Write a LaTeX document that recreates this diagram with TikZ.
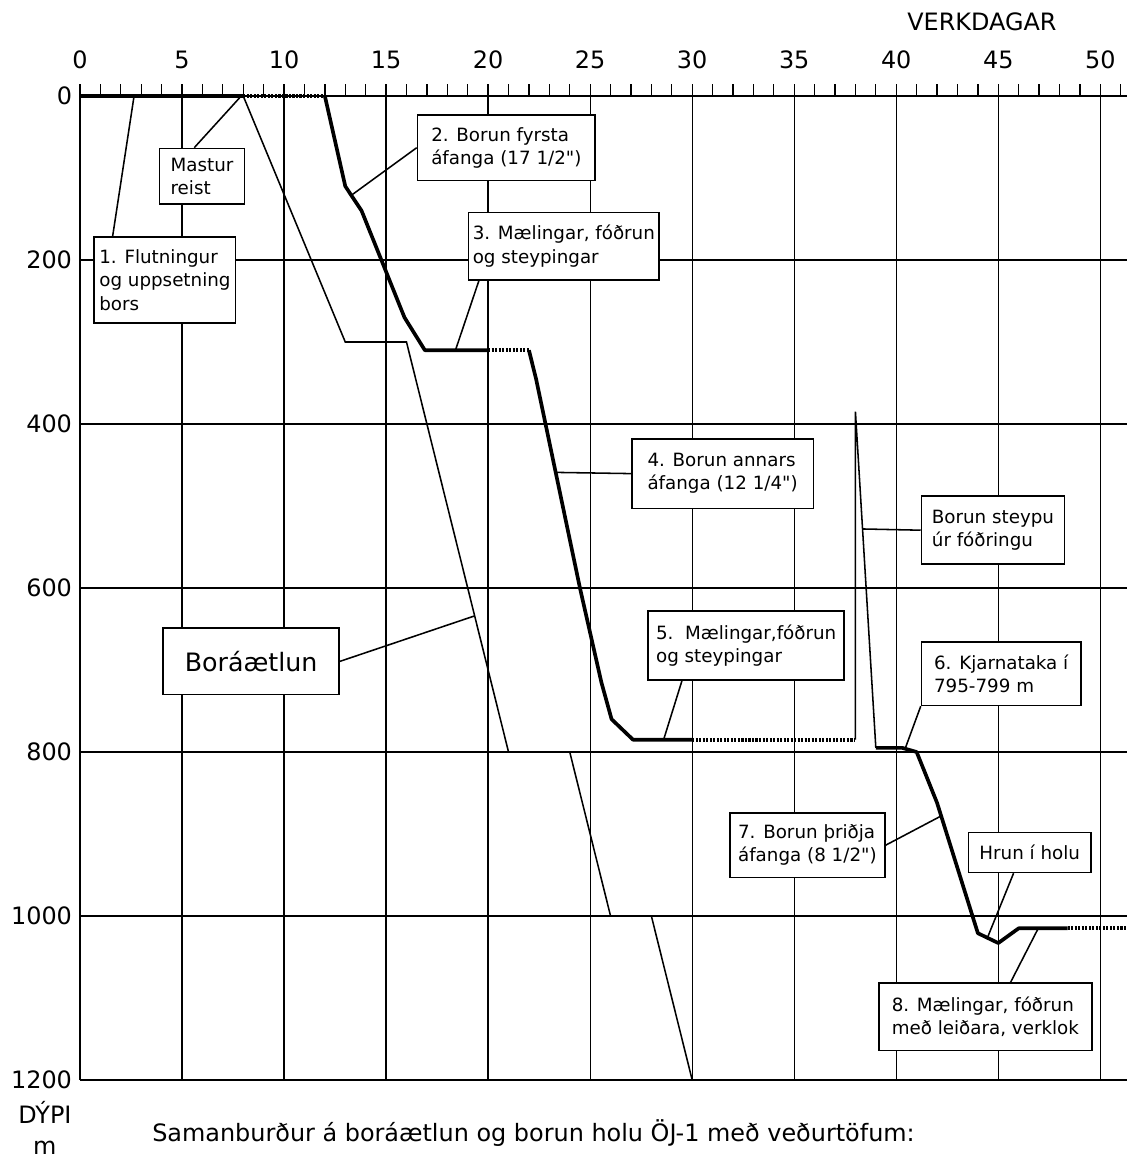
\documentclass[tikz,border=0pt]{standalone}
\usepackage{fontspec}
\setmainfont{DejaVu Sans}[Ligatures=TeXOff]
\begin{document}
\begin{tikzpicture}[x=0.51cm,y=-0.0205cm,
		box/.style={draw,line width=1.2pt,fill=white,align=left,anchor=north west,inner sep=3pt,font=\fontsize{13}{16.5}\selectfont},
		lead/.style={line width=1.1pt},
		bore/.style={line width=2.6pt,line join=round},
		delay/.style={line width=2.6pt,dash pattern=on 1.5pt off 1pt},
		num/.style={font=\fontsize{17}{20}\selectfont}]
	\useasboundingbox (-3.92,-117.1) rectangle (51.57,1297.6);
	\foreach \d in {0,5,...,50} \draw[line width=0.9pt] (\d,0) -- (\d,1200);
	\foreach \m in {200,400,...,1200} \draw[line width=0.9pt] (0,\m) -- (51.3,\m);
	\foreach \d in {0,...,51} \draw[line width=0.9pt] (\d,0) -- (\d,-15);
	\draw[line width=1.5pt] (0,0) -- (51.3,0);
	\foreach \d in {0,5,...,50} \node[num] at (\d,-44) {\d};
	\foreach \m in {0,200,...,1200} \node[num,anchor=east] at (-0.15,\m) {\m};
	\node[num] at (44.2,-90) {VERKDAGAR};
	\node[num] at (-1.72,1240) {DÝPI};
	\node[num] at (-1.72,1283) {m};
	\node[num,anchor=west] (caption) at (3.3,1265) {Samanburður á boráætlun og borun holu ÖJ-1 með veðurtöfum:};
	\draw[line width=1.1pt] (8,0) -- (13,300) -- (16,300) -- (21,800) -- (24,800) -- (26,1000) -- (28,1000) -- (30,1200);
	\draw[bore] (0,0) -- (8,0);
	\draw[delay] (8,0) -- (12,0);
	\draw[bore] (12,0) -- (13,110) -- (13.8,140) -- (15.9,270) -- (16.9,310) -- (20,310);
	\draw[delay] (20,310) -- (22,310);
	\draw[bore] (22,310) -- (22.35,345) -- (24.5,600) -- (25.55,715) -- (26.05,760) -- (27.1,785) -- (30,785);
	\draw[delay] (30,785) -- (38,785);
	\draw[line width=1.1pt] (38,785) -- (38,385) -- (39,795);
	\draw[bore] (39,795) -- (40.3,795) -- (41,800) -- (42,862) -- (44,1021) -- (45,1033) -- (46,1015) -- (48.4,1015);
	\draw[delay] (48.4,1015) -- (51.3,1015);
	\coordinate (c1) at (2.65,0);
	\coordinate (c2) at (7.9,0);
	\coordinate (c3) at (13.3,121);
	\coordinate (c4) at (18.4,310);
	\coordinate (c5) at (23.31,459);
	\coordinate (c6) at (38.35,528);
	\coordinate (c7) at (28.6,785);
	\coordinate (c8) at (19.34,634);
	\coordinate (c9) at (40.45,795);
	\coordinate (c10) at (42.2,878);
	\coordinate (c11) at (44.46,1027);
	\coordinate (c12) at (46.96,1015);
	\node[box,minimum width=3.53cm,minimum height=2.15cm] (flutn) at (0.66,171) {1. Flutningur\\og uppsetning\\bors};
	\node[box,minimum width=2.13cm,minimum height=1.39cm] (mastur) at (3.85,63) {Mastur\\reist};
	\node[box,minimum width=4.44cm,minimum height=1.64cm] (fyrsta) at (16.5,22) {2. Borun fyrsta\\áfanga (17 1/2")};
	\node[box,minimum width=4.34cm,minimum height=1.68cm] (maeling1) at (19.0,141) {3. Mælingar, fóðrun\\og steypingar};
	\node[box,minimum width=4.54cm,minimum height=1.74cm] (annars) at (27.0,417) {4. Borun annars\\áfanga (12 1/4")};
	\node[box,minimum width=3.57cm,minimum height=1.70cm] (steypu) at (41.2,487) {Borun steypu\\úr fóðringu};
	\node[box,minimum width=4.90cm,minimum height=1.72cm] (maeling2) at (27.8,627) {5.\ \ Mælingar,fóðrun\\og steypingar};
	\node[box,minimum width=4.39cm,minimum height=1.66cm,font=\fontsize{18}{22}\selectfont] (plan) at (4.04,648) {Boráætlun};
	\node[box,minimum width=3.98cm,minimum height=1.58cm] (kjarni) at (41.2,665) {6. Kjarnataka í\\795-799 m};
	\node[box,minimum width=3.88cm,minimum height=1.62cm] (thridja) at (31.8,873) {7. Borun þriðja\\áfanga (8 1/2")};
	\node[box,minimum width=3.06cm,minimum height=1.00cm] (hrun) at (43.5,897) {Hrun í holu};
	\node[box,minimum width=5.33cm,minimum height=1.68cm] (verklok) at (39.1,1081) {8. Mælingar, fóðrun\\með leiðara, verklok};
	\draw[lead] (flutn.north west) ++(0.94,0) -- (c1);
	\draw[lead] (mastur.north west) ++(1.75,0) -- (c2);
	\draw[lead] (fyrsta.west) -- (c3);
	\draw[lead] (maeling1.south west) ++(0.55,0) -- (c4);
	\draw[lead] (annars.west) -- (c5);
	\draw[lead] (steypu.west) -- (c6);
	\draw[lead] (maeling2.south west) ++(1.7,0) -- (c7);
	\draw[lead] (plan.east) -- (c8);
	\draw[lead] (kjarni.south west) -- (c9);
	\draw[lead] (thridja.east) -- (c10);
	\draw[lead] (hrun.south west) ++(2.25,0) -- (c11);
	\draw[lead] (verklok.north west) ++(6.5,0) -- (c12);
\end{tikzpicture}
\end{document}
